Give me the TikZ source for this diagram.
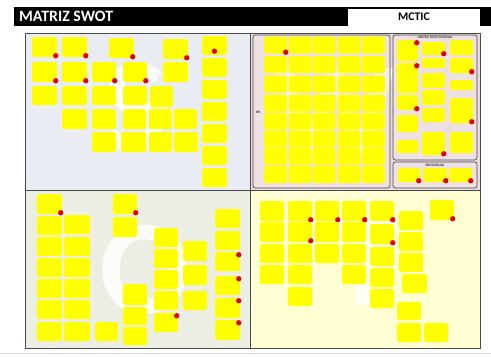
\documentclass[tikz,border=0pt]{standalone}
\usepackage{fontspec}
\setmainfont{Carlito}
\usepackage{tikz}

\definecolor{noteyellow}{HTML}{FFFF00}
\definecolor{dotred}{HTML}{E00000}
\definecolor{qS}{HTML}{E9EDF3}
\definecolor{qW}{HTML}{EADCDE}
\definecolor{qO}{HTML}{ECEEE4}
\definecolor{qT}{HTML}{FFFDD2}
\definecolor{frame}{HTML}{4A4A4A}

\tikzset{
  note/.style={fill=noteyellow, rounded corners=1.5pt, inner sep=0pt},
  reddot/.style={fill=dotred},
  mark letter/.style={text=white, opacity=0.8, inner sep=0pt, font=\fontsize{115}{115}\selectfont\bfseries},
  group box/.style={draw=frame, fill=qW!70!white, rounded corners=2pt, line width=0.6pt},
  group title/.style={font=\fontsize{3}{3}\selectfont\bfseries, text=black!80}
}

% one sticky note per x1/y1/x2/y2/dot (dot: 1 lower right, 2 upper right, 3 bottom middle)
\newcommand\stickies[2]{%
  \foreach \a/\b/\c/\d/\e [count=\n] in {#2} {
    \node[note, minimum width=(\c-\a)*0.3mm, minimum height=(\d-\b)*0.3mm]
      (#1\n) at ({(\a+\c)/2},{(\b+\d)/2}) {};
    \ifnum\e=1 \fill[reddot] ([shift={(-1.5,-1.5)}]#1\n.south east) circle (0.8mm);\fi
    \ifnum\e=2 \fill[reddot] ([shift={(-1.5,3)}]#1\n.north east) circle (0.8mm);\fi
    \ifnum\e=3 \fill[reddot] ([shift={(0,-4)}]#1\n.south) circle (0.8mm);\fi
  }%
}

\begin{document}
\begin{tikzpicture}[x=0.3mm, y=-0.3mm]
\useasboundingbox[fill=white] (0,0) rectangle (491,356);

% header
\fill[black] (14,7) rectangle (491,26);
\node[fill=white, minimum width=132*0.3mm, minimum height=17*0.3mm, inner sep=0pt] (tag) at (414,17) {};
\node[anchor=west, text=white, font=\fontsize{13.5}{13.5}\selectfont\bfseries] (title) at (15,16.5) {MATRIZ SWOT};
\node[font=\fontsize{10}{10}\selectfont\bfseries] (org) at (tag) {MCTIC};

% quadrants
\fill[qS] (25,33) rectangle (250,190);
\fill[qW] (250,33) rectangle (480,190);
\fill[qO] (25,190) rectangle (250,348);
\fill[qT] (250,190) rectangle (480,348);

% big letters behind the notes
\node[mark letter] (bigS) at (135,108) {S};
\node[mark letter] (bigW) at (335,112) {W};
\node[mark letter] (bigO) at (145,270) {O};
\node[mark letter] (bigT) at (365,262) {T};

\draw[frame, line width=0.6pt] (25,33) rectangle (480,348);
\draw[frame, line width=0.8pt] (25,190) -- (480,190);
\draw[frame, line width=0.6pt] (250,33) -- (250,348);
\draw[black!15] (0,353) -- (491,353);

% groups on the right side
\node[group box, minimum width=137*0.3mm, minimum height=153*0.3mm, fill opacity=0.5] (rh) at (321.5,111.5) {};
\node[group box, minimum width=84*0.3mm, minimum height=125*0.3mm, fill opacity=0.5] (gi) at (435,97.5) {};
\node[group box, minimum width=84*0.3mm, minimum height=26*0.3mm, fill opacity=0.5] (pr) at (435,175) {};
\node[group title] (rhname) at (258,112) {RH};
\node[group title] (giname) at (435,37.5) {GESTÃO INSTITUCIONAL};
\node[group title] (prname) at (435,165) {PROCESSUAL};

% strengths
\stickies{s}{32/37/57/57/1, 62/37/87/57/1, 109/38/134/58/1, 163/39/188/59/1, 202/36/227/55/3,
  32/62/57/82/1, 62/62/87/82/1, 92/62/116/82/1, 123/62/147/82/1, 163/62/188/82/0, 202/58/227/77/0,
  32/86/57/105/0, 62/86/87/105/0, 92/86/116/105/0, 123/86/147/105/0, 150/86/173/107/0, 202/80/227/99/0,
  62/109/87/129/0, 92/109/116/129/0, 123/109/146/129/0, 149/109/172/129/0, 174/109/197/129/0, 202/102/227/121/0,
  92/132/116/152/0, 121/132/146/152/0, 149/132/172/152/0, 174/132/198/152/0, 202/124/227/143/0,
  202/146/227/165/0, 202/168/227/187/0}

% weaknesses, RH
\foreach \cx [count=\i] in {275.5,300,324,349,373.5}
  \foreach \cy [count=\j] in {45,64.5,84,103,121,139,156.5,174.5}
    \node[note, minimum width=23*0.3mm, minimum height=17*0.3mm] (rh\i-\j) at (\cx,\cy) {};
\fill[reddot] ([shift={(-1.5,-1.5)}]rh1-1.south east) circle (0.8mm);

% weaknesses, gestao
\stickies{g}{397/40/418/61/2, 397/63/418/93/2, 397/95/418/110/1, 397/115/418/132/0, 397/140/418/153/0,
  422/42/445/55/1, 422/58/445/68/0, 422/73/445/88/0, 422/90/445/105/0, 422/108/445/122/0, 422/132/445/155/1,
  450/40/473/55/0, 450/58/473/73/1, 450/80/473/90/0, 450/98/473/123/1, 450/132/473/153/0}

% weaknesses, processual
\stickies{p}{398/168/420/182/1, 423/168/447/182/1, 449/168/472/182/1}

% opportunities
\stickies{o}{37/194/62/214/1, 37/216/62/235/0, 37/237/62/256/0, 37/258/62/277/0, 37/279/62/298/0, 37/300/62/319/0, 37/322/62/341/0,
  64/215/90/234/0, 64/237/90/256/0, 64/258/90/277/0, 64/279/90/298/0, 64/300/90/319/0, 64/322/90/341/0,
  95/322/118/341/0,
  113/194/137/214/1, 113/217/137/237/0,
  123/284/147/305/0, 123/307/147/325/0, 123/327/147/345/0,
  154/228/178/247/0, 154/249/178/268/0, 154/270/178/289/0, 154/291/178/310/0, 154/313/178/332/2,
  183/241/207/261/0, 183/265/207/285/0, 183/291/207/310/0,
  215/209/240/228/0, 215/231/240/250/0, 215/252/240/271/2, 215/276/240/295/2, 215/298/240/318/2, 215/320/240/340/2}

% threats
\stickies{t}{260/201/284/221/0, 260/222/284/242/0, 260/244/284/263/0, 260/265/284/284/0,
  288/201/312/221/1, 288/222/312/242/1, 288/244/312/263/0, 288/265/312/284/0, 288/287/312/306/0,
  315/201/339/221/1, 315/222/339/242/0, 315/244/339/263/0,
  342/201/366/221/1, 342/222/366/242/0, 342/244/366/263/0, 342/265/366/284/0,
  370/201/394/221/1, 370/224/394/244/1, 370/247/394/266/0, 370/268/394/287/0, 370/289/394/308/0,
  399/211/423/230/0, 399/232/423/251/0, 399/253/423/272/0, 402/274/427/293/0,
  397/302/421/320/0, 397/323/421/342/0, 424/323/448/342/0,
  430/200/454/220/1}

\end{tikzpicture}
\end{document}
